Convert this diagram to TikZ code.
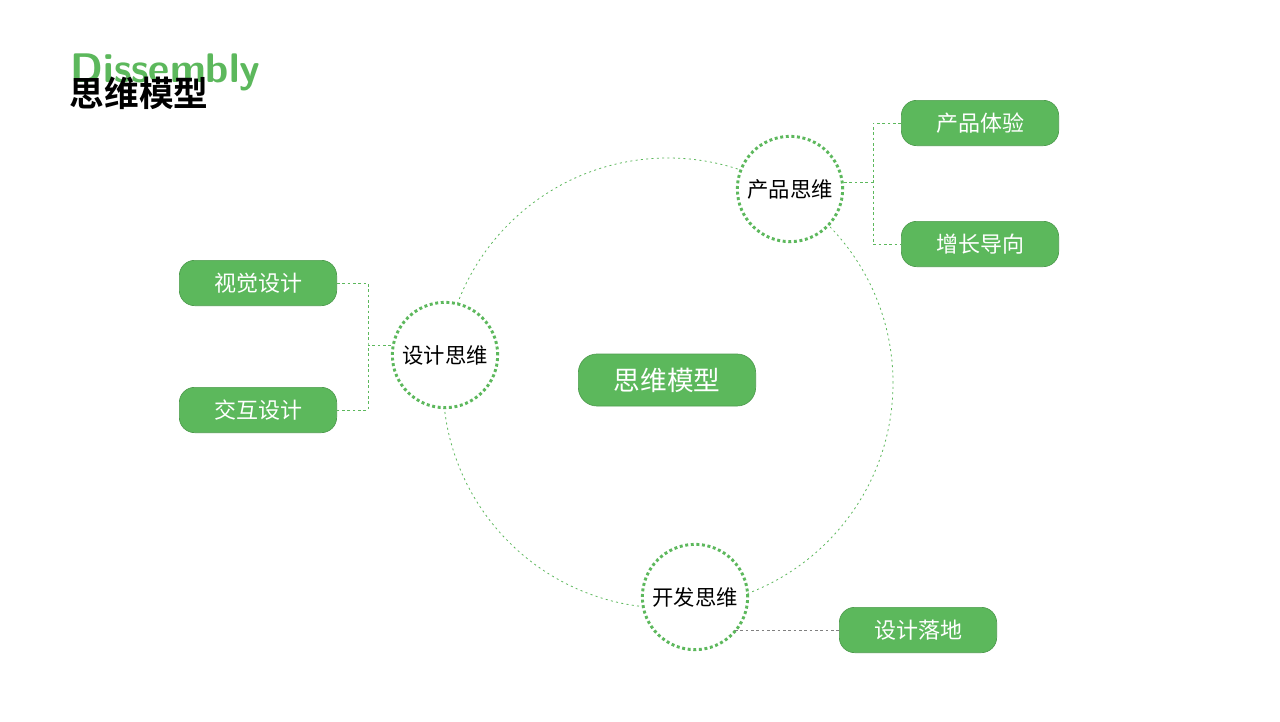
\documentclass[tikz,border=0pt]{standalone}
\usepackage{fontspec}
\setmainfont{Noto Sans CJK SC}
\newfontfamily\cjkb{Noto Sans CJK SC Bold}
\definecolor{gr}{HTML}{5CB85C}
\begin{document}
\begin{tikzpicture}[x=0.75pt,y=-0.75pt,
 pill/.style={fill=gr,draw=gr!85!black,line width=0.5pt,rounded corners=11.5pt,minimum width=118pt,minimum height=34pt,text=white,font=\fontsize{16.5}{16.5}\selectfont},
 think/.style={circle,draw=gr,line width=2.2pt,dotted,fill=white,minimum size=79pt,inner sep=0pt,font=\fontsize{16}{16}\selectfont},
 link/.style={draw=gr,dashed,dash pattern=on 2pt off 2pt,line width=0.6pt}]
\useasboundingbox (0,0) rectangle (1280,721);
\fill[white] (0,0) rectangle (1280,721);
\node[anchor=west,text=gr,font=\sffamily\bfseries\fontsize{31}{31}\selectfont] (en) at (66,72) {Dissembly};
\node[anchor=west,font=\cjkb\fontsize{26}{26}\selectfont] (ti) at (65,93) {思维模型};
\coordinate (c) at (668,383);
\draw[link,dash pattern=on 1.5pt off 2.5pt] (c) circle[radius=168.75pt];
\node[pill,minimum width=133pt,minimum height=39pt,rounded corners=14pt,font=\fontsize{20}{20}\selectfont] (m) at (667,380) {思维模型};
\node[think] (p) at (790,189) {产品思维};
\node[think] (s) at (445,355) {设计思维};
\node[think] (k) at (695,597) {开发思维};
\node[pill] (p1) at (980,123) {产品体验};
\node[pill] (p2) at (980,244) {增长导向};
\node[pill] (s1) at (258,283) {视觉设计};
\node[pill] (s2) at (258,410) {交互设计};
\node[pill] (k1) at (918,630) {设计落地};
\coordinate (pj) at (873,182);
\coordinate (sj) at (368,345);
\draw[link] (p.east |- pj) -- (pj);
\draw[link] (p1.west) -| (pj) |- (p2.west);
\draw[link] (s.west |- sj) -- (sj);
\draw[link] (s1.east) -| (sj) |- (s2.east);
\coordinate (kj) at (735,630);
\draw[draw=gray,dashed,dash pattern=on 2pt off 2pt,line width=0.6pt] (kj) -- (k1.west);
\end{tikzpicture}
\end{document}
